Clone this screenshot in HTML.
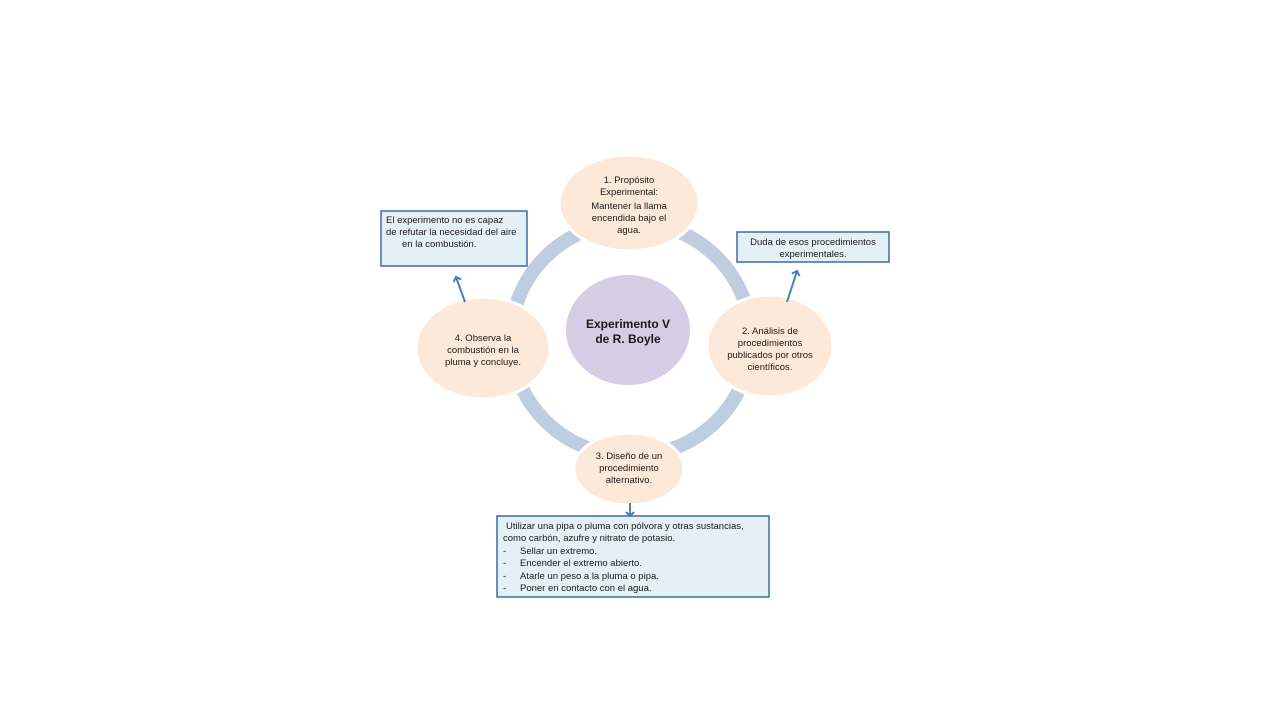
<!DOCTYPE html>
<html><head><meta charset="utf-8"><style>
body{margin:0;background:#fff;width:1280px;height:720px;overflow:hidden}
svg{display:block}
text{font-family:"Liberation Sans",sans-serif;font-size:9.5px;fill:#1a1a1a}
.c{text-anchor:middle}
</style></head><body>
<svg width="1280" height="720" viewBox="0 0 1280 720">
<defs><marker id="a" markerWidth="10" markerHeight="10" refX="5" refY="5" orient="auto" markerUnits="userSpaceOnUse"><path d="M1,1 L5,5 L1,9" fill="none" stroke="#4a7ebb" stroke-width="2"/></marker></defs>
<ellipse cx="631" cy="339" rx="120" ry="117" fill="none" stroke="#bfcde1" stroke-width="14"/>
<ellipse cx="628" cy="330" rx="62" ry="55" fill="#d5cde3"/>
<text class="c" x="628" y="328" style="font-weight:bold;font-size:12px">Experimento V</text>
<text class="c" x="628" y="343" style="font-weight:bold;font-size:12px">de R. Boyle</text>
<g fill="#fde9d9" stroke="#fff" stroke-width="3">
<ellipse cx="629" cy="203" rx="70" ry="48"/>
<ellipse cx="483" cy="348" rx="67" ry="51"/>
<ellipse cx="770" cy="346" rx="63" ry="51"/>
<ellipse cx="629" cy="469" rx="55" ry="36"/>
</g>
<text class="c" x="629" y="183">1. Propósito</text>
<text class="c" x="629" y="195">Experimental:</text>
<text class="c" x="629" y="209">Mantener la llama</text>
<text class="c" x="629" y="221">encendida bajo el</text>
<text class="c" x="629" y="233">agua.</text>
<text class="c" x="483" y="341">4. Observa la</text>
<text class="c" x="483" y="353">combustión en la</text>
<text class="c" x="483" y="365">pluma y concluye.</text>
<text class="c" x="770" y="334">2. Análisis de</text>
<text class="c" x="770" y="346">procedimientos</text>
<text class="c" x="770" y="358">publicados por otros</text>
<text class="c" x="770" y="370">científicos.</text>
<text class="c" x="629" y="459">3. Diseño de un</text>
<text class="c" x="629" y="471">procedimiento</text>
<text class="c" x="629" y="483">alternativo.</text>
<g fill="#e3f0f6" stroke="#3d6aa4" stroke-width="1.5">
<rect x="381" y="211" width="146" height="55"/>
<rect x="737" y="232" width="152" height="30"/>
<rect x="497" y="516" width="272" height="81"/>
</g>
<text x="386" y="223">El experimento no es capaz</text>
<text x="386" y="235">de refutar la necesidad del aire</text>
<text x="402" y="247">en la combustión.</text>
<text class="c" x="813" y="245">Duda de esos procedimientos</text>
<text class="c" x="813" y="257">experimentales.</text>
<text x="506" y="529">Utilizar una pipa o pluma con pólvora y otras sustancias,</text>
<text x="503" y="541">como carbón, azufre y nitrato de potasio.</text>
<text x="503" y="554">-</text><text x="520" y="554">Sellar un extremo.</text>
<text x="503" y="566">-</text><text x="520" y="566">Encender el extremo abierto.</text>
<text x="503" y="579">-</text><text x="520" y="579">Atarle un peso a la pluma o pipa.</text>
<text x="503" y="591">-</text><text x="520" y="591">Poner en contacto con el agua.</text>
<g stroke="#4a7ebb" stroke-width="2" fill="none">
<line x1="465" y1="302" x2="456" y2="277" marker-end="url(#a)"/>
<line x1="787" y1="302" x2="797" y2="271" marker-end="url(#a)"/>
<line x1="630" y1="503" x2="630" y2="516" marker-end="url(#a)"/>
</g>
</svg>
</body></html>
